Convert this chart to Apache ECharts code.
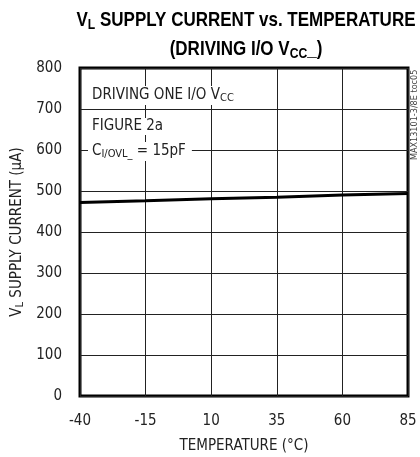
<!DOCTYPE html>
<html>
<head>
<meta charset="utf-8">
<script src="https://cdn.jsdelivr.net/npm/echarts@6/dist/echarts.min.js"></script>
<style>
  html, body { margin: 0; padding: 0; background: #fff; }
  #chart { width: 420px; height: 457px; }
</style>
</head>
<body>
<div id="chart"></div>
<script>
// 温度 (°C) 与 VL 电源电流 (µA)
var temps = [-40, -15, 10, 35, 60, 85];
var current = [472, 476, 481, 485, 490, 494];
var xTicks = [-40, -15, 10, 35, 60, 85];
var yTicks = [0, 100, 200, 300, 400, 500, 600, 700, 800];

var FONT = '"Liberation Sans Narrow", "DejaVu Sans Condensed", sans-serif';
var TITLE_FONT = '"Liberation Sans", sans-serif';

// 标题用压缩字体效果：按目标宽度横向缩放
function titleScale(txt, size, target) {
  var ctx = document.createElement("canvas").getContext("2d");
  ctx.font = "bold " + size + "px " + TITLE_FONT;
  return target / ctx.measureText(txt).width;
}
var tScale = titleScale("VL SUPPLY CURRENT vs. TEMPERATURE", 21, 342);

var chart = echarts.init(document.getElementById("chart"));

var subTitle = { fontFamily: TITLE_FONT, fontWeight: "bold", fontSize: 15, fill: "#000", padding: [9, 0, 0, 0] };

var option = {
  backgroundColor: "#fff",
  animation: false,
  grid: {
    left: 80, right: 12, top: 68, bottom: 61,
    outerBoundsMode: "none",
    show: true, borderColor: "#000", borderWidth: 3
  },
  xAxis: {
    type: "value",
    min: -40,
    max: 85,
    interval: 25,
    name: "TEMPERATURE (°C)",
    nameLocation: "middle",
    nameGap: 43,
    nameTextStyle: { fontFamily: FONT, fontSize: 15, color: "#222" },
    axisLine: { show: false },
    axisTick: { show: false },
    axisLabel: {
      fontFamily: FONT, fontSize: 15, color: "#222", margin: 18,
      formatter: function (v) { return xTicks.indexOf(v) >= 0 ? String(v) : ""; }
    },
    splitLine: { show: true, lineStyle: { color: "#222", width: 1 } }
  },
  yAxis: {
    type: "value",
    min: 0,
    max: 800,
    interval: 100,
    name: "V{sub|L} SUPPLY CURRENT (µA)",
    nameLocation: "middle",
    nameGap: 47,
    nameTextStyle: {
      fontFamily: FONT, fontSize: 15, color: "#222",
      rich: { sub: { fontFamily: FONT, fontSize: 11, color: "#222", verticalAlign: "bottom", padding: [6, 0, 0, 0] } }
    },
    axisLine: { show: false },
    axisTick: { show: false },
    axisLabel: {
      fontFamily: FONT, fontSize: 15, color: "#222", margin: 18,
      formatter: function (v) { return yTicks.indexOf(v) >= 0 ? String(v) : ""; }
    },
    splitLine: { show: true, lineStyle: { color: "#222", width: 1 } }
  },
  graphic: [
    {
      type: "text", x: 246, y: 8, scaleX: tScale, z: 100,
      style: {
        text: "V{sub|L} SUPPLY CURRENT vs. TEMPERATURE",
        font: "bold 21px " + TITLE_FONT, fill: "#000", align: "center", verticalAlign: "top",
        rich: { sub: subTitle }
      }
    },
    {
      type: "text", x: 246, y: 37, scaleX: tScale, z: 100,
      style: {
        text: "(DRIVING I/O V{sub|CC}_)",
        font: "bold 21px " + TITLE_FONT, fill: "#000", align: "center", verticalAlign: "top",
        rich: { sub: subTitle }
      }
    },
    {
      type: "text", left: 88, top: 86, z: 100,
      style: {
        text: "DRIVING ONE I/O V{sub|CC}",
        font: "15px " + FONT, fill: "#222",
        backgroundColor: "#fff", padding: [1, 4, 1, 4],
        rich: { sub: { fontFamily: FONT, fontSize: 11, fill: "#222", verticalAlign: "bottom", padding: [6, 0, 0, 0] } }
      }
    },
    {
      type: "text", left: 88, top: 118, z: 100,
      style: { text: "FIGURE 2a", font: "15px " + FONT, fill: "#222", backgroundColor: "#fff", padding: [1, 4, 1, 4] }
    },
    {
      type: "text", left: 88, top: 142, z: 100,
      style: {
        text: "C{sub|I/OVL_} = 15pF",
        font: "15px " + FONT, fill: "#222",
        backgroundColor: "#fff", padding: [1, 6, 1, 4],
        rich: { sub: { fontFamily: FONT, fontSize: 11, fill: "#222", verticalAlign: "bottom", padding: [6, 0, 0, 0] } }
      }
    },
    {
      type: "text", x: 410, y: 160, rotation: Math.PI / 2, z: 100,
      style: { text: "MAX13101-3/8E toc05", font: "9px " + FONT, fill: "#444", align: "left", verticalAlign: "top" }
    }
  ],
  series: [
    {
      type: "line",
      data: temps.map(function (t, i) { return [t, current[i]]; }),
      symbol: "none",
      lineStyle: { color: "#000", width: 3 },
      z: 10
    }
  ]
};

chart.setOption(option);
window.addEventListener("resize", function () { chart.resize(); });
</script>
</body>
</html>
